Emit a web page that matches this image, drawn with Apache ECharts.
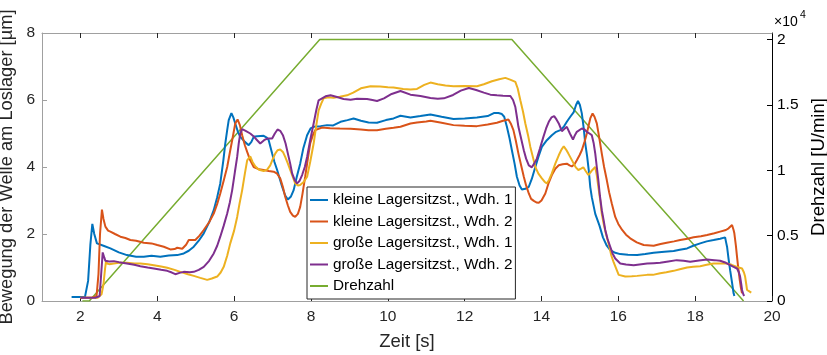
<!DOCTYPE html>
<html>
<head>
<meta charset="utf-8">
<script src="https://cdn.jsdelivr.net/npm/echarts@6/dist/echarts.min.js"></script>
<style>
html,body{margin:0;padding:0;background:#fff;}
#c{width:827px;height:355px;}
</style>
</head>
<body>
<div id="c"></div>
<script>
// ---- data ----
const seriesNames = [
  'kleine Lagersitzst., Wdh. 1',
  'kleine Lagersitzst., Wdh. 2',
  'große Lagersitzst., Wdh. 1',
  'große Lagersitzst., Wdh. 2',
  'Drehzahl'
];
const xTicks = [2,4,6,8,10,12,14,16,18,20];
const yLeftTicks = [0,2,4,6,8];
const yRightTicks = [0,5000,10000,15000,20000];

const kleine1 = [[1.77,0.12],[2.0,0.12],[2.12,0.13],[2.2,0.6],[2.26,1.7],[2.31,2.30],[2.36,2.0],[2.43,1.72],[2.6,1.65],[2.78,1.57],[3.0,1.45],[3.21,1.37],[3.45,1.32],[3.65,1.32],[3.85,1.35],[4.08,1.32],[4.3,1.36],[4.52,1.37],[4.69,1.42],[4.82,1.50],[4.95,1.62],[5.08,1.80],[5.21,2.02],[5.35,2.35],[5.47,2.71],[5.56,3.1],[5.64,3.51],[5.72,4.2],[5.77,4.70],[5.82,5.1],[5.86,5.40],[5.93,5.61],[5.98,5.48],[6.03,5.30],[6.1,5.05],[6.16,4.90],[6.28,4.75],[6.38,4.65],[6.45,4.75],[6.51,4.90],[6.6,4.92],[6.77,4.93],[6.85,4.88],[6.90,4.80],[6.99,4.40],[7.05,4.15],[7.12,3.91],[7.25,3.41],[7.33,3.15],[7.40,3.03],[7.48,3.12],[7.55,3.31],[7.63,3.70],[7.72,4.10],[7.80,4.55],[7.90,4.95],[7.99,5.15],[8.07,5.20],[8.25,5.22],[8.42,5.25],[8.58,5.24],[8.77,5.35],[8.95,5.40],[9.11,5.45],[9.3,5.38],[9.5,5.33],[9.72,5.32],[9.95,5.40],[10.15,5.45],[10.33,5.53],[10.59,5.48],[10.85,5.52],[11.11,5.57],[11.4,5.50],[11.71,5.43],[12.0,5.45],[12.32,5.48],[12.6,5.52],[12.76,5.61],[12.88,5.61],[12.97,5.58],[13.03,5.50],[13.10,5.20],[13.17,4.85],[13.23,4.50],[13.30,4.10],[13.36,3.71],[13.43,3.45],[13.49,3.33],[13.58,3.35],[13.67,3.41],[13.75,3.65],[13.84,4.00],[13.92,4.30],[14.01,4.60],[14.14,4.80],[14.27,4.95],[14.38,5.05],[14.49,5.10],[14.58,5.20],[14.66,5.35],[14.75,5.50],[14.84,5.64],[14.9,5.85],[14.95,5.97],[15.0,5.85],[15.05,5.60],[15.10,5.15],[15.14,4.70],[15.19,4.30],[15.23,3.91],[15.27,3.40],[15.31,3.10],[15.40,2.60],[15.51,2.25],[15.60,1.90],[15.70,1.65],[15.79,1.52],[15.92,1.44],[16.05,1.40],[16.25,1.38],[16.49,1.37],[16.7,1.40],[16.92,1.44],[17.2,1.47],[17.44,1.49],[17.6,1.53],[17.79,1.57],[17.95,1.65],[18.13,1.72],[18.3,1.78],[18.48,1.82],[18.65,1.86],[18.78,1.90],[18.80,1.78],[18.83,1.62],[18.87,1.25],[18.91,0.92],[18.96,0.55],[19.0,0.23],[19.02,0.15]];

const kleine2 = [[2.0,0.1],[2.3,0.1],[2.42,0.15],[2.47,0.8],[2.51,2.0],[2.56,2.73],[2.6,2.45],[2.65,2.22],[2.72,2.10],[2.78,2.07],[2.9,2.0],[3.04,1.92],[3.17,1.88],[3.30,1.82],[3.45,1.80],[3.65,1.74],[3.85,1.72],[4.0,1.67],[4.17,1.62],[4.34,1.54],[4.45,1.55],[4.52,1.59],[4.65,1.56],[4.75,1.68],[4.82,1.82],[4.99,1.82],[5.1,1.95],[5.21,2.12],[5.35,2.35],[5.47,2.61],[5.56,2.9],[5.64,3.21],[5.73,3.6],[5.82,4.0],[5.90,4.5],[5.95,4.80],[6.03,5.30],[6.09,5.42],[6.15,5.25],[6.21,4.95],[6.28,4.65],[6.34,4.45],[6.42,4.2],[6.51,4.0],[6.65,3.93],[6.77,3.91],[6.9,3.88],[7.03,3.86],[7.12,3.80],[7.20,3.66],[7.27,3.40],[7.33,3.11],[7.40,2.85],[7.46,2.66],[7.53,2.55],[7.59,2.51],[7.66,2.6],[7.72,2.81],[7.78,3.20],[7.85,3.71],[7.92,4.25],[7.98,4.70],[8.05,4.95],[8.11,5.10],[8.29,5.18],[8.5,5.16],[8.75,5.15],[9.03,5.14],[9.3,5.12],[9.5,5.10],[9.72,5.10],[9.95,5.14],[10.15,5.17],[10.33,5.20],[10.59,5.30],[10.76,5.33],[11.0,5.36],[11.11,5.38],[11.4,5.32],[11.71,5.25],[12.0,5.23],[12.32,5.22],[12.6,5.27],[12.84,5.32],[13.0,5.38],[13.14,5.42],[13.20,5.30],[13.27,5.10],[13.33,4.80],[13.40,4.40],[13.47,4.05],[13.54,3.71],[13.60,3.45],[13.67,3.21],[13.73,3.05],[13.80,2.99],[13.87,2.94],[13.93,2.93],[14.0,3.0],[14.10,3.21],[14.18,3.50],[14.27,3.76],[14.36,3.95],[14.45,4.05],[14.55,4.08],[14.66,4.10],[14.73,4.05],[14.79,4.02],[14.86,4.08],[14.92,4.20],[14.99,4.35],[15.05,4.50],[15.12,4.75],[15.18,5.0],[15.23,5.25],[15.27,5.45],[15.33,5.60],[15.38,5.50],[15.44,5.30],[15.50,4.90],[15.57,4.40],[15.63,4.0],[15.70,3.61],[15.76,3.25],[15.83,2.91],[15.92,2.51],[16.0,2.30],[16.10,2.12],[16.2,1.98],[16.31,1.87],[16.48,1.75],[16.66,1.67],[16.92,1.65],[17.1,1.70],[17.26,1.74],[17.45,1.78],[17.61,1.82],[17.8,1.86],[17.96,1.90],[18.15,1.93],[18.31,1.97],[18.5,2.02],[18.65,2.07],[18.8,2.12],[18.87,2.17],[18.96,2.27],[19.0,2.12],[19.02,2.02],[19.06,1.65],[19.09,1.32],[19.12,1.0],[19.16,0.63],[19.19,0.40],[19.22,0.23]];

const grosse1 = [[2.0,0.1],[2.45,0.1],[2.55,0.2],[2.6,0.5],[2.64,0.95],[2.67,1.22],[2.69,1.12],[2.75,1.10],[2.87,1.12],[3.0,1.14],[3.21,1.14],[3.4,1.12],[3.56,1.12],[3.75,1.10],[3.91,1.07],[4.1,1.03],[4.26,0.99],[4.45,0.93],[4.60,0.87],[4.8,0.80],[4.95,0.75],[5.12,0.69],[5.30,0.63],[5.42,0.67],[5.56,0.73],[5.65,0.85],[5.73,1.02],[5.82,1.35],[5.90,1.72],[6.0,2.1],[6.08,2.51],[6.14,2.9],[6.21,3.31],[6.28,3.8],[6.34,4.20],[6.42,4.32],[6.48,4.15],[6.55,4.02],[6.65,3.92],[6.77,3.88],[6.86,3.92],[6.94,4.05],[7.0,4.22],[7.07,4.40],[7.13,4.50],[7.20,4.52],[7.27,4.45],[7.33,4.30],[7.40,4.10],[7.46,3.91],[7.53,3.70],[7.59,3.51],[7.66,3.45],[7.72,3.46],[7.81,3.55],[7.90,3.71],[7.98,4.15],[8.07,4.70],[8.14,5.25],[8.20,5.69],[8.27,5.90],[8.33,6.05],[8.45,6.08],[8.59,6.07],[8.75,6.10],[8.94,6.14],[9.1,6.22],[9.3,6.35],[9.55,6.41],[9.8,6.40],[10.0,6.38],[10.15,6.37],[10.4,6.33],[10.59,6.31],[10.76,6.33],[10.95,6.45],[11.11,6.52],[11.3,6.47],[11.5,6.43],[11.71,6.41],[12.0,6.42],[12.32,6.41],[12.5,6.47],[12.71,6.56],[12.9,6.62],[13.06,6.66],[13.2,6.60],[13.32,6.54],[13.38,6.35],[13.45,5.99],[13.52,5.65],[13.58,5.30],[13.65,4.95],[13.71,4.60],[13.78,4.28],[13.84,4.0],[13.92,3.80],[14.01,3.66],[14.08,3.56],[14.14,3.51],[14.20,3.62],[14.27,3.81],[14.36,4.10],[14.45,4.35],[14.52,4.52],[14.58,4.62],[14.64,4.52],[14.70,4.40],[14.77,4.25],[14.84,4.10],[14.9,3.98],[14.96,3.91],[15.03,3.95],[15.09,3.99],[15.15,3.88],[15.22,3.76],[15.30,3.88],[15.40,4.0],[15.44,3.75],[15.48,3.41],[15.53,3.0],[15.57,2.6],[15.62,2.3],[15.68,2.0],[15.75,1.70],[15.82,1.35],[15.88,1.15],[15.95,0.95],[16.01,0.78],[16.18,0.73],[16.35,0.74],[16.49,0.75],[16.75,0.78],[16.9,0.78],[17.09,0.83],[17.25,0.86],[17.44,0.90],[17.6,0.95],[17.79,1.0],[17.95,1.02],[18.13,1.04],[18.3,1.08],[18.48,1.12],[18.65,1.12],[18.83,1.12],[18.95,1.08],[19.09,1.02],[19.22,0.97],[19.27,0.85],[19.30,0.73],[19.33,0.50],[19.35,0.33],[19.40,0.30],[19.46,0.25]];

const grosse2 = [[2.0,0.1],[2.4,0.1],[2.5,0.15],[2.54,0.8],[2.58,1.45],[2.62,1.30],[2.65,1.20],[2.75,1.18],[2.87,1.19],[3.0,1.16],[3.21,1.12],[3.4,1.08],[3.56,1.04],[3.75,1.00],[3.91,0.97],[4.1,0.93],[4.26,0.90],[4.38,0.85],[4.47,0.80],[4.58,0.84],[4.69,0.87],[4.85,0.86],[4.95,0.87],[5.08,0.93],[5.21,1.02],[5.35,1.20],[5.47,1.42],[5.56,1.65],[5.64,1.92],[5.73,2.25],[5.82,2.61],[5.89,2.95],[5.95,3.31],[6.02,3.85],[6.08,4.30],[6.12,4.7],[6.16,5.0],[6.21,5.13],[6.3,5.08],[6.42,5.0],[6.52,4.9],[6.60,4.80],[6.68,4.70],[6.78,4.80],[6.86,4.85],[6.99,4.85],[7.06,5.0],[7.13,5.12],[7.20,5.08],[7.27,4.95],[7.34,4.70],[7.40,4.40],[7.46,4.10],[7.51,3.81],[7.58,3.60],[7.64,3.51],[7.70,3.58],[7.77,3.76],[7.84,4.00],[7.90,4.30],[7.98,4.80],[8.07,5.30],[8.14,5.70],[8.20,5.99],[8.25,6.02],[8.38,6.11],[8.51,6.14],[8.7,6.08],[8.85,6.03],[9.03,6.01],[9.2,6.04],[9.46,6.03],[9.6,6.00],[9.72,5.97],[9.9,6.05],[10.1,6.18],[10.33,6.27],[10.59,6.16],[10.85,6.12],[11.11,6.06],[11.3,6.04],[11.46,6.05],[11.7,6.15],[11.9,6.28],[12.11,6.36],[12.3,6.30],[12.5,6.22],[12.67,6.16],[12.84,6.14],[13.0,6.13],[13.19,6.12],[13.26,6.00],[13.32,5.79],[13.36,5.50],[13.40,5.20],[13.47,4.85],[13.54,4.50],[13.60,4.25],[13.67,4.05],[13.75,3.99],[13.81,4.10],[13.88,4.25],[13.96,4.55],[14.05,4.90],[14.12,5.15],[14.19,5.35],[14.26,5.48],[14.33,5.52],[14.39,5.42],[14.45,5.30],[14.53,5.07],[14.60,5.14],[14.66,5.20],[14.74,5.00],[14.82,4.82],[14.87,4.95],[14.92,5.05],[15.05,5.15],[15.12,5.12],[15.18,5.05],[15.25,5.0],[15.31,4.95],[15.36,4.70],[15.40,4.40],[15.44,4.0],[15.48,3.61],[15.52,3.15],[15.57,2.71],[15.62,2.40],[15.66,2.12],[15.72,1.85],[15.79,1.62],[15.85,1.42],[15.92,1.27],[16.05,1.12],[16.2,1.09],[16.40,1.07],[16.6,1.10],[16.75,1.12],[16.92,1.13],[17.09,1.14],[17.3,1.18],[17.52,1.22],[17.7,1.20],[17.87,1.17],[18.1,1.21],[18.31,1.24],[18.5,1.22],[18.65,1.20],[18.8,1.14],[18.91,1.07],[19.0,1.02],[19.09,0.97],[19.14,0.85],[19.17,0.73],[19.20,0.50],[19.22,0.33],[19.26,0.18],[19.28,0.15]];

const drehzahl = [[2.05,0],[2.23,0],[8.23,20000],[13.23,20000],[19.26,0]];

// ---- chart ----
const FONT = '"Liberation Sans", Arial, Helvetica, sans-serif';
const TXT = '#262626';
const colors = ['#0072BD','#D95319','#EDB120','#7E2F8E','#77AC30'];

const chart = echarts.init(document.getElementById('c'), null, {renderer:'canvas'});

function dataSeries(name, data, idx){
  return {
    name: name, type: 'line', data: data, yAxisIndex: 0, xAxisIndex: 0,
    showSymbol: false, symbol: 'none', animation: false,
    lineStyle: {color: colors[idx], width: 2},
    itemStyle: {color: colors[idx]},
    z: 3
  };
}

const option = {
  animation: false,
  textStyle: {fontFamily: FONT},
  grid: {left: 42, right: 55, top: 33, bottom: 54, containLabel: false, outerBoundsMode: 'none'},
  legend: {
    orient: 'vertical',
    left: 307, top: 187,
    padding: [5, 3, 5, 3],
    itemGap: 5.5,
    itemWidth: 18, itemHeight: 2,
    icon: 'rect',
    backgroundColor: '#fff',
    borderColor: '#262626', borderWidth: 1, borderRadius: 0,
    textStyle: {fontSize: 15.3, fontFamily: FONT, color: '#000', lineHeight: 16},
    selectedMode: false,
    data: seriesNames
  },
  xAxis: [
    {
      type: 'value', min: 1, max: 20, position: 'bottom',
      axisLine: {show: true, onZero: false, lineStyle: {color: '#a0a0a0', width: 1}},
      axisTick: {show: true, inside: true, length: 5, customValues: xTicks, lineStyle: {color: TXT}},
      axisLabel: {show: true, customValues: xTicks, margin: 8, fontSize: 15.5, color: TXT, fontFamily: FONT},
      splitLine: {show: false},
      name: 'Zeit [s]', nameLocation: 'middle', nameGap: 31,
      nameTextStyle: {fontSize: 18.5, color: TXT, fontFamily: FONT}
    },
    {
      type: 'value', min: 1, max: 20, position: 'top',
      axisLine: {show: true, onZero: false, lineStyle: {color: '#a0a0a0', width: 1}},
      axisTick: {show: true, inside: true, length: 5, customValues: xTicks.slice(0, 9), lineStyle: {color: TXT}},
      axisLabel: {show: false},
      splitLine: {show: false}
    }
  ],
  yAxis: [
    {
      type: 'value', min: 0, max: 8, interval: 2, position: 'left',
      axisLine: {show: true, onZero: false, lineStyle: {color: '#a0a0a0', width: 1}},
      axisTick: {show: true, inside: true, length: 5, customValues: yLeftTicks, lineStyle: {color: '#a0a0a0'}},
      axisLabel: {show: true, customValues: yLeftTicks, margin: 7, fontSize: 15.5, color: TXT, fontFamily: FONT},
      splitLine: {show: false},
      name: 'Bewegung der Welle am Loslager [µm]', nameLocation: 'middle', nameGap: 11, nameRotate: 90,
      nameTextStyle: {fontSize: 18.3, color: TXT, fontFamily: FONT}
    },
    {
      type: 'value', min: 0, max: 20500, position: 'right',
      axisLine: {show: true, onZero: false, lineStyle: {color: '#000', width: 1}},
      axisTick: {show: true, inside: true, length: 5, customValues: yRightTicks, lineStyle: {color: '#000'}},
      axisLabel: {show: true, customValues: yRightTicks, margin: 5, fontSize: 15.5, color: '#000', fontFamily: FONT,
        formatter: function(v){ return String(v / 10000); }},
      splitLine: {show: false},
      name: 'Drehzahl [U/min]', nameLocation: 'middle', nameGap: 36, nameRotate: 90,
      nameTextStyle: {fontSize: 18.5, color: '#000', fontFamily: FONT}
    }
  ],
  graphic: [
    {type: 'text', left: 774, top: 15, style: {text: '×10', fontSize: 14, fill: '#000', fontFamily: FONT}},
    {type: 'text', left: 800, top: 10, style: {text: '4', fontSize: 10.5, fill: '#000', fontFamily: FONT}}
  ],
  series: [
    dataSeries(seriesNames[0], kleine1, 0),
    dataSeries(seriesNames[1], kleine2, 1),
    dataSeries(seriesNames[2], grosse1, 2),
    dataSeries(seriesNames[3], grosse2, 3),
    {
      name: seriesNames[4], type: 'line', data: drehzahl, yAxisIndex: 1, xAxisIndex: 0,
      showSymbol: false, symbol: 'none',
      lineStyle: {color: colors[4], width: 1.5},
      itemStyle: {color: colors[4]},
      z: 2
    }
  ]
};
chart.setOption(option);
</script>
</body>
</html>
